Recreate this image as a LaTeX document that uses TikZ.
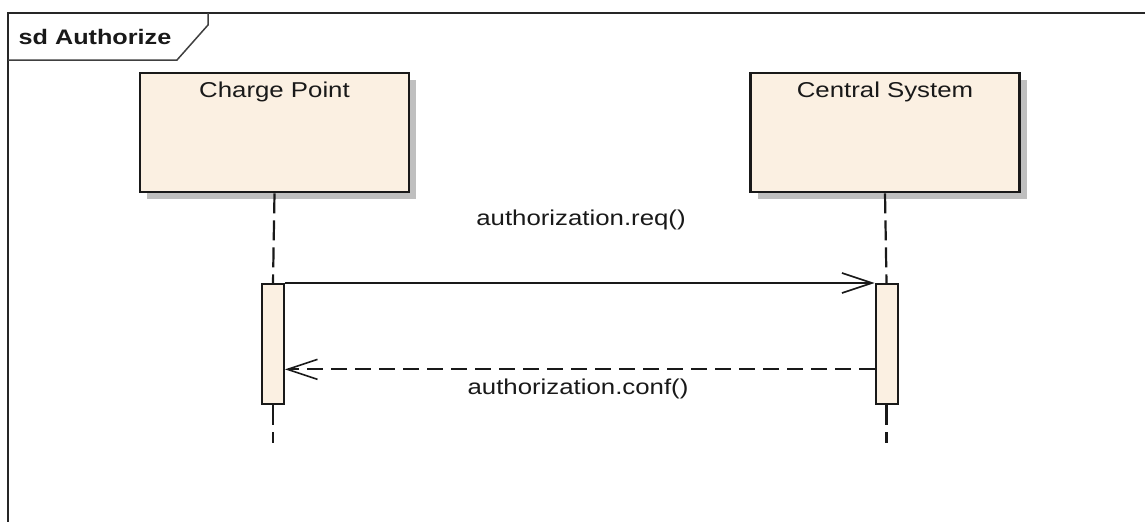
\documentclass[tikz,border=0pt]{standalone}
\usepackage{fontspec}
\newfontfamily\diagfont{Liberation Sans}[FakeStretch=1.2]
\usetikzlibrary{arrows.meta,shadows,calc}

\tikzset{
  umltext/.style={font=\diagfont\fontsize{21.5}{25}\selectfont, text=black!90, inner sep=0pt},
  frameline/.style={line width=2.8pt, draw=black!85},
  lifebox/.style={draw=black!90, line width=2.6pt, fill=boxfill, minimum width=269pt, minimum height=119pt,
    inner sep=0pt, drop shadow={shadow xshift=7pt, shadow yshift=-7pt, fill=black!25, opacity=1}},
  activation/.style={draw=black!90, line width=2pt, fill=boxfill, minimum width=22pt, minimum height=120pt, inner sep=0pt},
  lifeline/.style={draw=black!90, line width=2.2pt, dash pattern=on 20pt off 7pt},
  msg/.style={draw=black!90, line width=2pt, -{Straight Barb[length=30pt,width=20pt,line width=1.6pt]}},
  reply/.style={msg, dash pattern=on 16pt off 8pt},
}
\definecolor{boxfill}{HTML}{FBF0E2}

\begin{document}
\begin{tikzpicture}[x=1pt,y=-1pt]
  \useasboundingbox[fill=white] (0,0) rectangle (1145,522);

  % diagram frame and its name tab
  \draw[frameline] (1145,13) -| (8,522);
  \draw[line width=1.5pt, draw=black!75] (208,13) -- (208,25) -- (177,60) -- (8,60);
  \node[umltext, font=\diagfont\bfseries\fontsize{21}{25}\selectfont] (title) at (95,37) {sd Authorize};

  % participants
  \node[lifebox] (cp) at (274.5,132.5) {};
  \node[umltext] (cptext) at ([yshift=-20pt]cp.north) {Charge Point};
  \node[lifebox] (cs) at (885,132.5) {};
  \node[umltext] (cstext) at ([yshift=-20pt]cs.north) {Central System};

  % execution specifications
  \node[activation] (acp) at (273,344) {};
  \node[activation] (acs) at (886.5,344) {};
  \coordinate (endcp) at (273,443);
  \coordinate (endcs) at (886.5,443);

  % lifelines
  \draw[lifeline] (cp.south) -- (acp.north);
  \draw[lifeline] (acp.south) -- (endcp);
  \draw[lifeline] (cs.south) -- (acs.north);
  \draw[lifeline] (acs.south) -- (endcs);

  % messages
  \draw[msg] (acp.north east) -- (acs.north west);
  \draw[reply] ($(acs.north west)!0.708!(acs.south west)$) -- ($(acp.north east)!0.708!(acp.south east)$);
  \node[umltext] (req) at (581,220) {authorization.req()};
  \node[umltext] (conf) at (578,389) {authorization.conf()};
\end{tikzpicture}
\end{document}
